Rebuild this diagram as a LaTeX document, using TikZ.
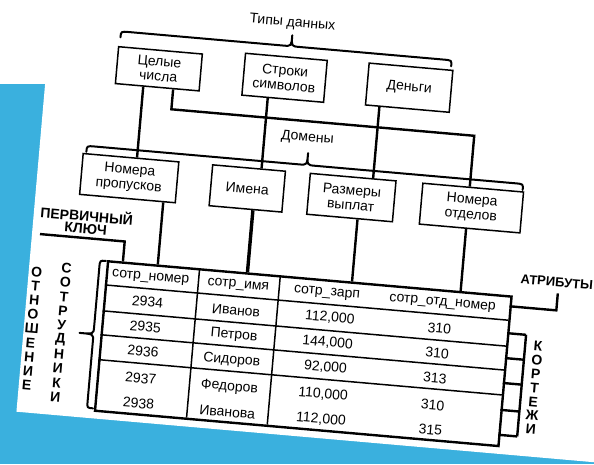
\documentclass[tikz,border=0pt]{standalone}
\usepackage{fontspec}
\setmainfont{Liberation Sans}
\usetikzlibrary{calc}
\definecolor{slideblue}{RGB}{58,176,222}
\tikzset{
  box/.style = {draw, line width=1.5pt, align=center, inner sep=0pt,
    minimum height=41pt},
  link/.style = {line width=2.4pt},
  cell/.style = {inner sep=1pt},
  caps/.style = {inner sep=0pt, font=\bfseries\fontsize{14}{15}\selectfont}
}
\newcommand{\tabw}{405}
\newcommand{\tabh}{150}

\begin{document}
\begin{tikzpicture}[x=1pt, y=-1pt, font=\fontsize{14}{15}\selectfont]
  \tikzstyle{curly}=[line width=2pt, line cap=round, line join=round]
  \useasboundingbox (0,0) rectangle (594,464);
  \clip (0,0) rectangle (594,464);
  \fill[slideblue] (0,84) rectangle (594,464);
  \begin{scope}[transform canvas={shift={(107,260)}, rotate=-5}]
    \fill[white] (-77,-340) rectangle (640,159);
    % data types
    \node[box, minimum width=84pt, minimum height=37pt] (tint) at (35,-195) {Целые\\числа};
    \node[box, minimum width=82pt, minimum height=42pt] (tstr) at (161,-197) {Строки\\символов};
    \node[box, minimum width=84pt, minimum height=42pt] (tmon) at (286,-198) {Деньги};
    \node[cell] (types) at (164,-252) {Типы данных};
    \draw[curly] (-6,-223) .. controls (-6,-229) .. (2,-229) -- (157,-229)
      .. controls (165,-229) .. (165,-240) .. controls (165,-229) .. (173,-229)
      -- (318,-229) .. controls (326,-229) .. (326,-223);
    % domains
    \node[box, minimum width=96pt] (dpass) at (15,-83.5) {Номера\\пропусков};
    \node[box, minimum width=73pt] (dname) at (133.5,-83.5) {Имена};
    \node[box, minimum width=86pt] (dpay) at (238,-83.5) {Размеры\\выплат};
    \node[box, minimum width=101pt] (ddep) at (358.5,-83.5) {Номера\\отделов};
    \node[cell] (doms) at (189,-139) {Домены};
    \draw[curly] (-30,-106) .. controls (-30,-112) .. (-22,-112) -- (183,-112)
      .. controls (191,-112) .. (191,-124) .. controls (191,-112) .. (199,-112)
      -- (400,-112) .. controls (408,-112) .. (408,-106);
    \draw[link] (tint.south) ++(-14,0) coordinate (j1) -- (j1 |- dpass.north);
    \draw[link] (tint.south) ++(16,0) coordinate (j2) -- ++(0,20) -| ($(ddep.north)+(-3.5,0)$);
    \draw[link] (tstr.south) ++(-15,0) coordinate (j3) -- (j3 |- dname.north);
    \draw[link] (tmon.south) ++(-28,0) coordinate (j4) -- (j4 |- dpay.north);
    % relation
    \node[draw, line width=2.4pt, inner sep=0pt, anchor=north west,
      minimum width=\tabw pt, minimum height=\tabh pt] (tab) at (0,0) {};
    \foreach \r in {25,51,75,100}
      \draw[line width=1.5pt] (0,\r) -- (\tabw,\r);
    \foreach \c in {93,174}
      \draw[line width=1.5pt] (\c,0) -- (\c,\tabh);
    \draw[link] (dpass.south) ++(36,0) coordinate (k1) -- (k1 |- tab.north);
    \draw[link, line width=3.4pt] (dname.south) ++(7.5,0) coordinate (k2) -- (k2 |- tab.north);
    \draw[link] (dpay.south) ++(8,0) coordinate (k3) -- (k3 |- tab.north);
    \draw[link] (ddep.south) ++(-3.5,0) coordinate (k4) -- (k4 |- tab.north);
    \node[cell] (hnum) at (45,14) {сотр\_номер};
    \node[cell] (hname) at (133,14) {сотр\_имя};
    \node[cell] (hpay) at (222,14) {сотр\_зарп};
    \node[cell] (hdep) at (338,14) {сотр\_отд\_номер};
    \foreach \y/\num/\name/\pay/\dep [count=\i] in {38/2934/Иванов/{112,000}/310,
        63/2935/Петров/{144,000}/310, 88/2936/Сидоров/{92,000}/313,
        115/2937/Федоров/{110,000}/310, 140/2938/Иванова/{112,000}/315}{
      \node[cell] (num\i) at (44,\y) {\num};
      \node[cell] (name\i) at (133,\y+1) {\name};
      \node[cell] (pay\i) at (227,\y) {\pay};
      \node[cell] (dep\i) at (337,\y+1) {\dep};
    }
    % primary key
    \node[caps] (pk1) at (-24,-43) {ПЕРВИЧНЫЙ};
    \node[caps] (pk2) at (-24,-29) {КЛЮЧ};
    \coordinate (pkstart) at (-69,-20);
    \coordinate (pkfoot) at (16,0);
    \draw[link] (pkstart) -| (pkfoot);
    % attributes
    \node[caps, font=\bfseries\fontsize{13}{14}\selectfont] (attr) at (450,-17) {АТРИБУТЫ};
    \coordinate (attrroot) at (\tabw,11);
    \coordinate (attrfoot) at (452,-6);
    \draw[link] (attrroot) -| (attrfoot);
    % tuples
    \foreach \y in {38,63,88,115,140}
      \draw[link] (\tabw,\y) -- (424,\y);
    \draw[link] (424,38) -- (424,140);
    \foreach \ch [count=\i] in {К,О,Р,Т,Е,Ж,И}
      \node[caps] (tu\i) at (437,{34+\i*14}) {\ch};
    % relation name
    \draw[curly] (-1,1) .. controls (-7,1) .. (-7,8) -- (-7,68)
      .. controls (-7,75) .. (-21,75) .. controls (-7,75) .. (-7,82)
      -- (-7,143) .. controls (-7,149) .. (-1,149);
    \foreach \ch [count=\i] in {О,Т,Н,О,Ш,Е,Н,И,Е}
      \node[caps] (rel\i) at (-69,{3.75+\i*14.25}) {\ch};
    \foreach \ch [count=\i] in {С,О,Т,Р,У,Д,Н,И,К,И}
      \node[caps] (emp\i) at (-39.5,{-2.9+\i*14.4}) {\ch};
  \end{scope}
\end{tikzpicture}
\end{document}
